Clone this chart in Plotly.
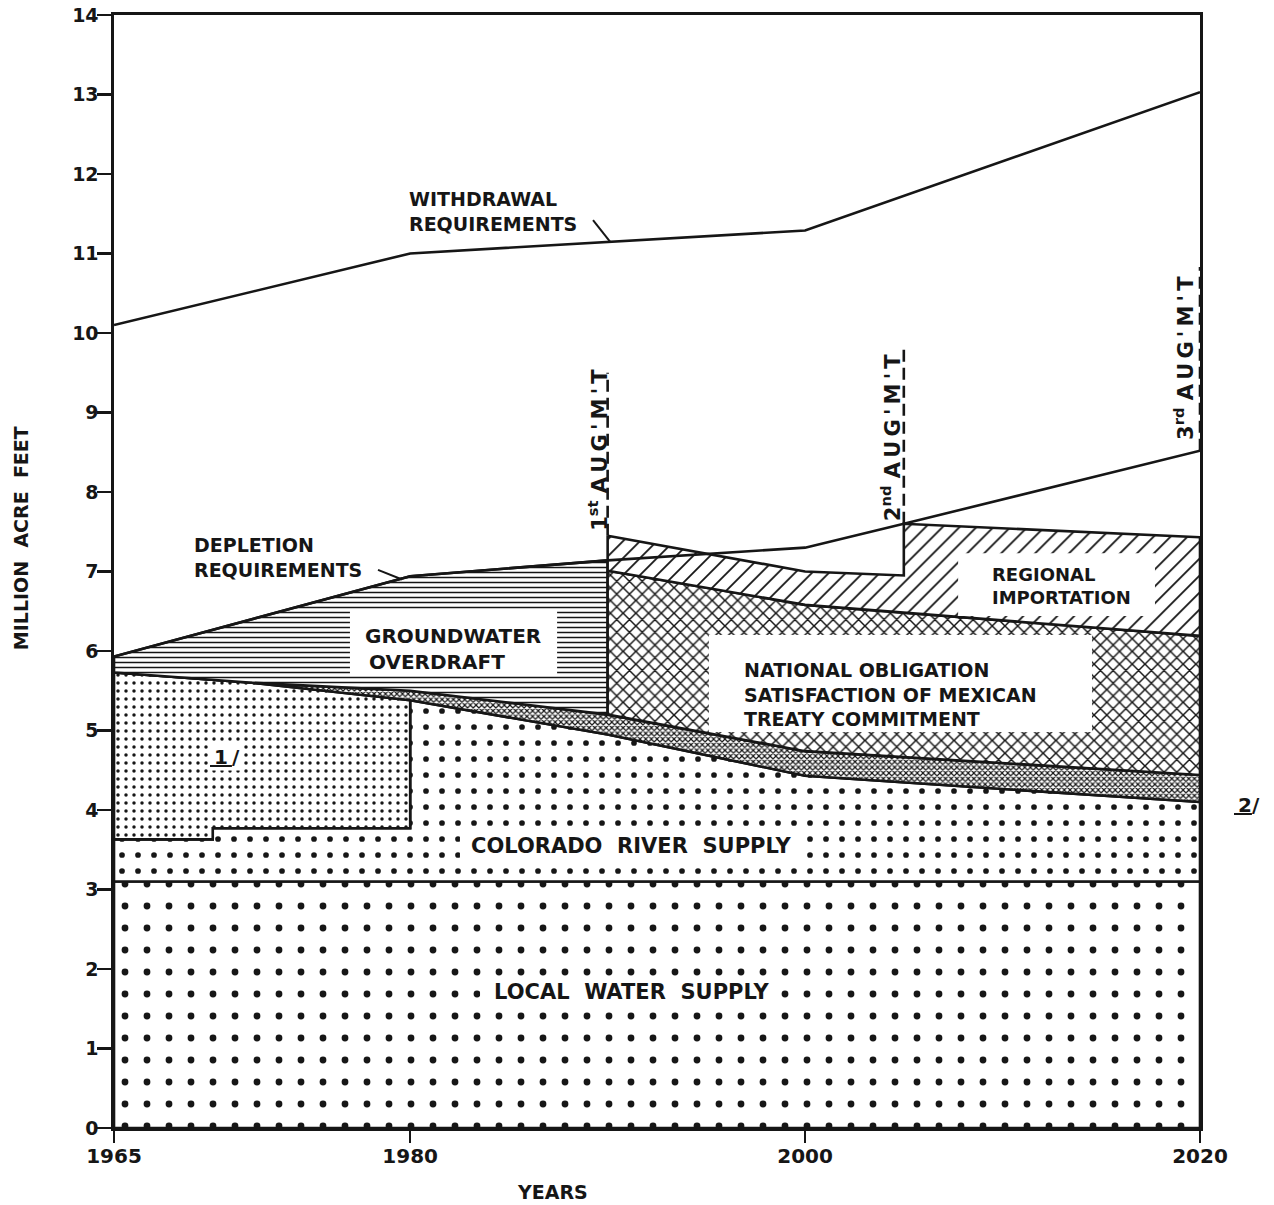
import plotly.graph_objects as go

# ---------------- data (million acre feet) ----------------
years_local = [1965, 2020]
local_supply = [3.1, 3.1]

# Colorado River supply before 1980 (excluding footnote-1 water)
colorado_base_years = [1965, 1970, 1970, 1980]
colorado_base = [3.63, 3.63, 3.77, 3.77]

# top of Colorado River supply (incl. footnote-1 water before 1980)
colorado_years = [1965, 1972, 1980, 1990, 2000, 2020]
colorado_total = [5.73, 5.60, 5.38, 4.95, 4.43, 4.10]

# total supply line (top of the stippled band)
supply_years = [1965, 1972, 1980, 1990, 2000, 2020]
supply_total = [5.73, 5.60, 5.50, 5.20, 4.74, 4.44]

depletion_years = [1965, 1980, 1990, 2000, 2005, 2020]
depletion = [5.93, 6.94, 7.14, 7.30, 7.60, 8.52]

national_years = [1990, 2000, 2020]
national_top = [7.01, 6.58, 6.19]

import_years = [1990, 2000, 2005, 2005, 2020]
import_top = [7.45, 7.00, 6.95, 7.60, 7.43]

withdrawal_years = [1965, 1980, 2000, 2020]
withdrawal = [10.1, 11.0, 11.29, 13.03]

aug_years = [1990, 2005, 2020]
aug_base = [7.45, 7.60, 8.52]
aug_top = [9.5, 9.79, 10.83]
aug_ordinals = ["1<sup>st</sup>", "2<sup>nd</sup>", "3<sup>rd</sup>"]

x_ticks = [1965, 1980, 2000, 2020]
y_ticks = list(range(0, 15))

FONT = "DejaVu Sans"
INK = "#161616"
LW = 2.6


def region(xt, yt, xb, yb, shape, size, solidity):
    xs = list(xt) + list(xb)[::-1] + [xt[0]]
    ys = list(yt) + list(yb)[::-1] + [yt[0]]
    return go.Scatter(
        x=xs, y=ys, mode="lines", fill="toself",
        fillcolor="white",
        fillpattern=dict(shape=shape, size=size, solidity=solidity,
                         fgcolor=INK, bgcolor="white", fillmode="replace"),
        line=dict(color=INK, width=LW), hoverinfo="skip", showlegend=False)


fig = go.Figure()

# local water supply
fig.add_trace(region(years_local, local_supply, years_local, [0, 0], ".", 22, 0.075))
# Colorado River supply
fig.add_trace(region(colorado_base_years + colorado_years[2:],
                     colorado_base + colorado_total[2:],
                     years_local, local_supply, ".", 16, 0.1))
# footnote-1 region
fig.add_trace(region(colorado_years[:3], colorado_total[:3],
                     colorado_base_years, colorado_base, ".", 8, 0.15))
# stippled band
fig.add_trace(region(supply_years, supply_total, colorado_years, colorado_total, "x", 4, 0.5))
# groundwater overdraft
fig.add_trace(region(depletion_years[:3], depletion[:3], supply_years[:4], supply_total[:4], "-", 5, 0.3))
# national obligation
fig.add_trace(region(national_years, national_top, supply_years[3:], supply_total[3:], "x", 9, 0.3))
# regional importation
fig.add_trace(region(import_years, import_top, national_years, national_top, "/", 12, 0.15))

# requirement lines
fig.add_trace(go.Scatter(x=depletion_years, y=depletion, mode="lines",
                         line=dict(color=INK, width=LW), showlegend=False, hoverinfo="skip"))
fig.add_trace(go.Scatter(x=withdrawal_years, y=withdrawal, mode="lines",
                         line=dict(color=INK, width=LW), showlegend=False, hoverinfo="skip"))

# augmentation dashed lines
for xa, yb, yt in zip(aug_years, aug_base, aug_top):
    fig.add_trace(go.Scatter(x=[xa, xa], y=[yb, yt], mode="lines",
                             line=dict(color=INK, width=LW, dash="12px,6px"),
                             showlegend=False, hoverinfo="skip"))

shapes = []
def box(x0, x1, y0, y1):
    shapes.append(dict(type="rect", xref="x", yref="y", x0=x0, x1=x1, y0=y0, y1=y1,
                       fillcolor="white", line=dict(width=0), layer="above"))

box(1976.95, 1987.44, 5.70, 6.52)     # groundwater overdraft
box(1995.13, 2014.53, 4.98, 6.20)     # national obligation
box(2007.75, 2017.72, 6.44, 7.23)     # regional importation
box(1982.52, 1999.74, 3.33, 3.75)     # colorado river supply
box(1983.54, 1998.73, 1.50, 1.91)     # local water supply

# leader lines
shapes.append(dict(type="line", xref="x", yref="y", x0=1989.26, y0=11.42, x1=1990.12, y1=11.15,
                   line=dict(color=INK, width=2)))
shapes.append(dict(type="line", xref="x", yref="y", x0=1978.37, y0=7.02, x1=1979.59, y1=6.90,
                   line=dict(color=INK, width=2)))

ann = []
def txt(x, y, s, size=20, xanchor="left", angle=0, bg=None, xref="x", yref="y",
        align="left", yanchor="middle"):
    d = dict(x=x, y=y, xref=xref, yref=yref, text=s, showarrow=False, xanchor=xanchor,
             yanchor=yanchor, textangle=angle, align=align,
             font=dict(family=FONT, size=size, color=INK, weight="bold"))
    if bg:
        d["bgcolor"] = bg
    ann.append(d)

txt(1979.84, 11.53, "WITHDRAWAL<br>REQUIREMENTS", size=19)
txt(1968.95, 7.18, "DEPLETION<br>REQUIREMENTS", size=19)
txt(1977.61, 6.03, "GROUNDWATER<br>&#8201;OVERDRAFT", size=20)
txt(1996.81, 5.459, "NATIONAL OBLIGATION<br>SATISFACTION OF MEXICAN<br>TREATY COMMITMENT", size=19)
txt(2009.37, 6.82, "REGIONAL<br>IMPORTATION", size=18)
txt(1991.23, 3.547, "COLORADO  RIVER  SUPPLY", size=21, xanchor="center")
txt(1991.21, 1.711, "LOCAL  WATER  SUPPLY", size=21, xanchor="center")
txt(1970.62, 4.667, "<u>\u20091\u2009</u>/", size=20, xanchor="center", bg="white")

sp = "\u2009"
aug_word = sp.join(list("AUG'M'T"))
aug_pos = [(1989.51, 8.53), (2004.35, 8.69), (2019.19, 9.686)]
for (xa, ya), o in zip(aug_pos, aug_ordinals):
    txt(xa, ya, o + " " + aug_word, size=21, xanchor="center", angle=-90)

# axis titles and footnote 2 (paper coords)
txt(-0.0856, 0.530, "MILLION  ACRE  FEET", size=19, xanchor="center", angle=-90,
    xref="paper", yref="paper")
txt(0.404, -0.0575, "YEARS", size=19, xanchor="center", xref="paper", yref="paper")
txt(1.043, 0.290, "<u>\u20092</u>/", size=20, xanchor="center", xref="paper", yref="paper")

fig.update_layout(
    template="none",
    width=1274, height=1205,
    margin=dict(l=114, r=74, t=15, b=77, autoexpand=False),
    paper_bgcolor="white", plot_bgcolor="white",
    showlegend=False,
    shapes=shapes, annotations=ann,
    xaxis=dict(range=[1965, 2020], tickvals=x_ticks, ticks="outside", ticklen=12,
               tickwidth=2.5, tickcolor=INK, showline=True, linecolor=INK, linewidth=LW,
               mirror=True, showgrid=False, zeroline=False, automargin=False,
               ticklabelstandoff=-4, ticklabeloverflow="allow",
               tickfont=dict(family=FONT, size=20, color=INK, weight="bold")),
    yaxis=dict(range=[0, 14], tickvals=y_ticks, ticks="outside", ticklen=14,
               tickwidth=2.5, tickcolor=INK, showline=True, linecolor=INK, linewidth=LW,
               mirror=True, showgrid=False, zeroline=False, automargin=False,
               ticklabelstandoff=-5, ticklabeloverflow="allow",
               tickfont=dict(family=FONT, size=19, color=INK, weight="bold")),
)

# remove the browser's default 8px page margin so the figure fills the window exactly
fig.write_html("out.html",
               config={"displayModeBar": False, "staticPlot": True},
               post_script="document.body.style.margin='0px';document.body.style.overflow='hidden';")
